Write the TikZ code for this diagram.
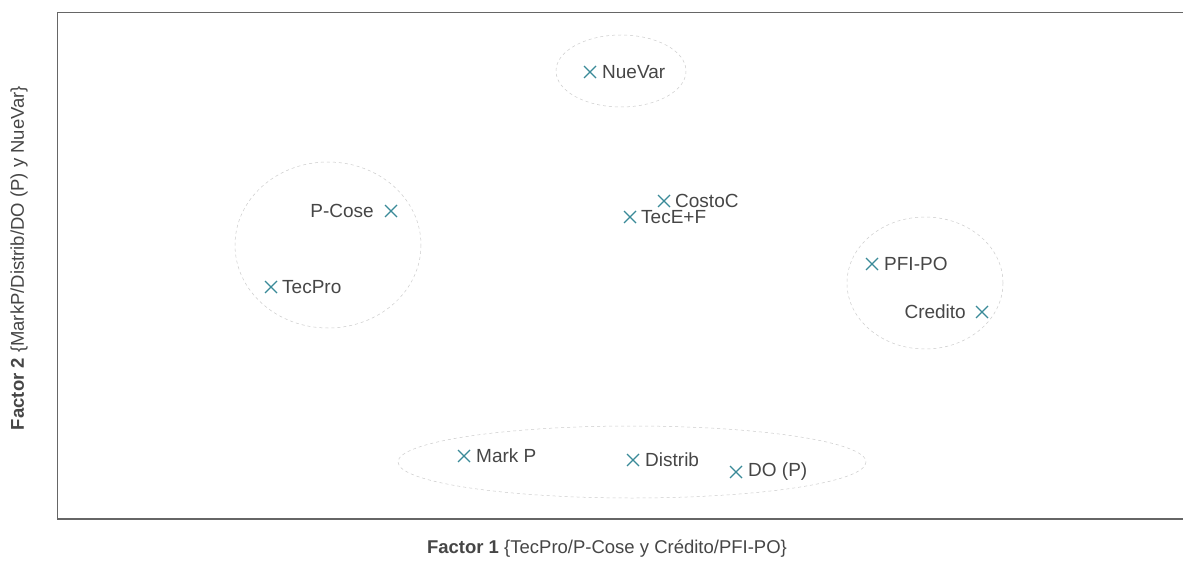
\documentclass[tikz,border=0pt]{standalone}
\usepackage{fontspec}
\setmainfont{Liberation Sans}
\definecolor{mkcol}{RGB}{58,138,152}
\definecolor{txtcol}{RGB}{70,70,70}
\begin{document}
\begin{tikzpicture}[x=1pt,y=-1pt,
  lbl/.style={text=txtcol, font=\fontsize{19}{22}\selectfont, inner sep=0pt},
  axl/.style={text=txtcol, font=\fontsize{18.5}{21}\selectfont, inner sep=0pt},
  grp/.style={draw=black!20, dash pattern=on 3pt off 3pt, line width=0.5pt},
  mk/.style={draw=mkcol, line width=1.2pt}]
\useasboundingbox (0,0) rectangle (1183,561);
\fill[white] (0,0) rectangle (1183,561);
% frame
\draw[black!60, line width=1.4pt] (1183,12.5) -- (57.5,12.5) -- (57.5,519) -- (1183,519);
% group outlines
\draw[grp] (621,71) ellipse [x radius=65, y radius=36];
\draw[grp] (328,245) ellipse [x radius=93, y radius=83];
\draw[grp] (925,283) ellipse [x radius=78, y radius=66];
\draw[grp] (632,462) ellipse [x radius=234, y radius=36];
% markers
\foreach \n/\x/\y in {nv/590/72, pc/391/211, tp/271/287, cc/664/201, te/630/217, pf/872/264, cr/982/312, mp/464/456, di/633/460, dp/736/472}{
  \coordinate (\n) at (\x,\y);
  \draw[mk] (\x-6,\y-6) -- (\x+6,\y+6) (\x-6,\y+6) -- (\x+6,\y-6);
}
% labels
\node[lbl, anchor=west] (lnv) at (602,72) {NueVar};
\node[lbl, anchor=east] (lpc) at (374,211) {P-Cose};
\node[lbl, anchor=west] (ltp) at (282,287) {TecPro};
\node[lbl, anchor=west] (lcc) at (675,201) {CostoC};
\node[lbl, anchor=west] (lte) at (641,217) {TecE+F};
\node[lbl, anchor=west] (lpf) at (884,264) {PFI-PO};
\node[lbl, anchor=east] (lcr) at (966,312) {Credito};
\node[lbl, anchor=west] (lmp) at (476,456) {Mark P};
\node[lbl, anchor=west] (ldi) at (645,460) {Distrib};
\node[lbl, anchor=west] (ldp) at (748,472) {DO (P)};
% axis titles
\node[axl] (ax1) at (607,549) {\textbf{Factor 1} \{TecPro/P-Cose y Crédito/PFI-PO\}};
\node[axl, rotate=90] (ax2) at (19,258) {\textbf{Factor 2} \{MarkP/Distrib/DO (P) y NueVar\}};
\end{tikzpicture}
\end{document}
